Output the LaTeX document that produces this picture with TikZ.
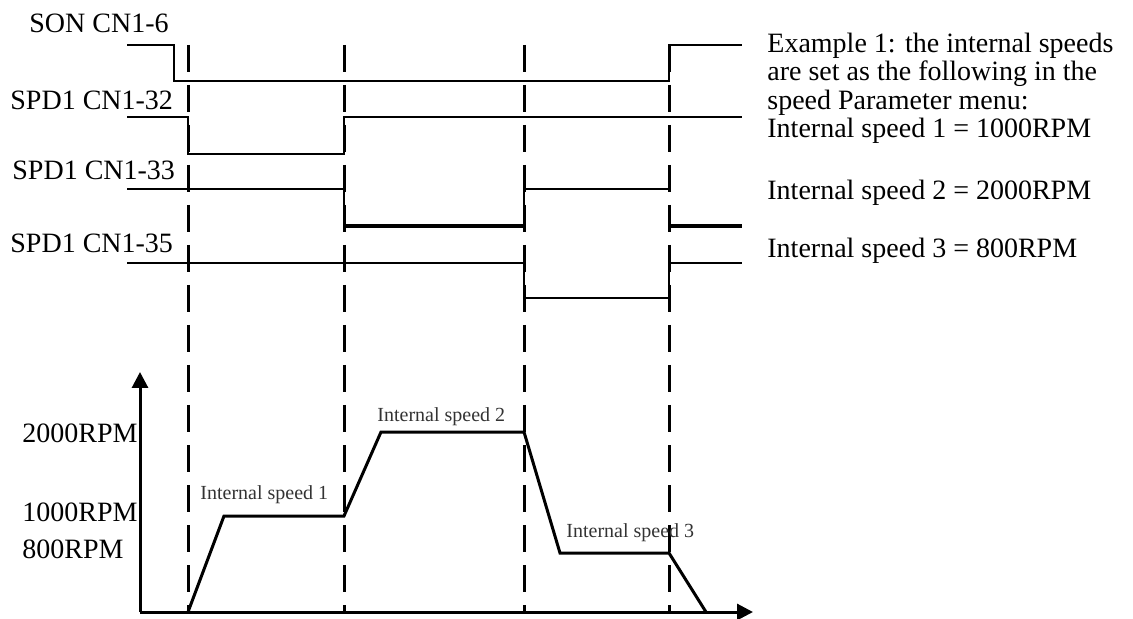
\documentclass[tikz,border=0pt]{standalone}
\usepackage{fontspec}
\setmainfont{Liberation Serif}
\usetikzlibrary{arrows.meta}

\begin{document}
\begin{tikzpicture}[
    x=0.5pt, y=-0.5pt,
    sig/.style={line width=1.2pt, line join=miter},
    sigthick/.style={line width=1.9pt},
    guide/.style={line width=1.5pt, dash pattern=on 13.5pt off 6.5pt},
    axis/.style={line width=1.5pt, -{Triangle[length=8pt,width=8pt]}},
    prof/.style={line width=1.5pt, line join=miter},
    lbl/.style={font=\fontsize{14}{14}\selectfont, inner sep=0pt, anchor=base west},
    slbl/.style={font=\fontsize{10}{10}\selectfont, inner sep=0pt, anchor=base west, text=black!80}
  ]
  \useasboundingbox (0,0) rectangle (1133,619);

  % Signal names
  \node[lbl] (son)   at (29,33)  {SON CN1-6};
  \node[lbl] (spdA)  at (10,110) {SPD1 CN1-32};
  \node[lbl] (spdB)  at (12,180) {SPD1 CN1-33};
  \node[lbl] (spdC)  at (10,253) {SPD1 CN1-35};

  % Guides at the switching instants
  \foreach \x in {188,344,524,669}
    \draw[guide] (\x,45) -- (\x,612);

  % Input signals
  \draw[sig] (127,45) -- (174,45) -- (174,81) -- (669,81) -- (669,45) -- (742,45);
  \draw[sig] (127,117) -- (188,117) -- (188,154) -- (344,154) -- (344,117) -- (742,117);
  \draw[sig] (127,189) -- (344,189) -- (344,226);
  \draw[sigthick] (344,226) -- (524,226);
  \draw[sig] (524,226) -- (524,189) -- (669,189);
  \draw[sigthick] (669,226) -- (742,226);
  \draw[sig] (127,263) -- (524,263) -- (524,298) -- (669,298) -- (669,263) -- (742,263);

  % Axes
  \coordinate (o) at (140,612);
  \draw[axis] (o) -- (140,372);
  \draw[axis] (o) -- (753,612);

  % Speed levels
  \node[lbl] (rpmA) at (22,443) {2000RPM};
  \node[lbl] (rpmB) at (22,521) {1000RPM};
  \node[lbl] (rpmC) at (22,558) {800RPM};

  % Speed profile
  \draw[prof] (188,612) -- (224,516) -- (344,516) -- (381,432) -- (524,432)
    -- (560,553) -- (669,553) -- (706,612);
  \node[slbl] (isA) at (200,499) {Internal speed 1};
  \node[slbl] (isB) at (377,422) {Internal speed 2};
  \node[slbl] (isC) at (566,537) {Internal speed 3};

  % Note
  \node[lbl] (noteA) at (767,53)  {Example 1: the internal speeds};
  \node[lbl] (noteB) at (767,81)  {are set as the following in the};
  \node[lbl] (noteC) at (767,110) {speed Parameter menu:};
  \node[lbl] (noteD) at (767,138) {Internal speed 1 = 1000RPM};
  \node[lbl] (noteE) at (767,200) {Internal speed 2 = 2000RPM};
  \node[lbl] (noteF) at (767,258) {Internal speed 3 = 800RPM};
\end{tikzpicture}
\end{document}
